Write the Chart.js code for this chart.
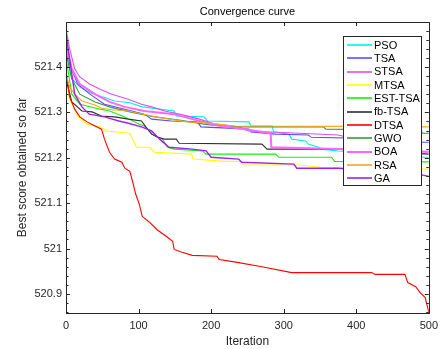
<!DOCTYPE html>
<html>
<head>
<meta charset="utf-8">
<script src="https://cdn.jsdelivr.net/npm/chart.js@4/dist/chart.umd.min.js"></script>
<style>
  html, body { margin: 0; padding: 0; background: #fff; }
  canvas { display: block; }
</style>
</head>
<body>
<canvas id="conv" width="444" height="349"></canvas>
<script>
// series names, in legend order
const seriesNames = ['PSO', 'TSA', 'STSA', 'MTSA', 'EST-TSA', 'fb-TSA', 'DTSA', 'GWO', 'BOA', 'RSA', 'GA'];

// [iteration, best score]
const PSO = [[0,521.44],[8,521.374],[19,521.356],[33,521.343],[51,521.334],[67,521.325],[88,521.321],[105,521.312],[129,521.307],[149,521.303],[152,521.292],[190,521.29],[195,521.281],[252,521.279],[255,521.27],[284,521.27],[286,521.257],[307,521.252],[311,521.241],[330,521.237],[334,521.23],[348,521.223],[352,521.219],[375,521.215],[471,521.208],[478,521.201],[500,521.201]];
const TSA = [[0,521.462],[5,521.407],[16,521.362],[33,521.34],[53,521.318],[81,521.307],[108,521.296],[118,521.285],[145,521.281],[181,521.279],[186,521.268],[252,521.263],[255,521.257],[289,521.252],[334,521.25],[338,521.245],[458,521.241],[485,521.234],[500,521.234]];
const STSA = [[0,521.484],[5,521.44],[12,521.396],[19,521.378],[33,521.362],[47,521.351],[63,521.34],[86,521.329],[104,521.318],[118,521.312],[136,521.303],[156,521.296],[184,521.285],[205,521.274],[238,521.268],[252,521.259],[321,521.254],[375,521.25],[430,521.23],[460,521.215],[500,521.213]];
const MTSA = [[0,521.37],[5,521.33],[16,521.292],[29,521.274],[47,521.268],[56,521.259],[88,521.254],[97,521.223],[115,521.223],[122,521.212],[173,521.208],[175,521.197],[218,521.192],[242,521.192],[245,521.184],[321,521.184],[352,521.179],[500,521.175]];
const EST_TSA = [[0,521.42],[8,521.34],[19,521.318],[47,521.307],[60,521.303],[81,521.29],[101,521.274],[108,521.27],[119,521.252],[133,521.241],[140,521.223],[149,521.219],[188,521.215],[193,521.208],[289,521.208],[293,521.201],[366,521.201],[370,521.192],[500,521.191]];
const FB_TSA = [[0,521.374],[8,521.323],[22,521.303],[36,521.301],[49,521.292],[67,521.29],[86,521.285],[104,521.281],[110,521.268],[118,521.252],[126,521.245],[136,521.241],[152,521.241],[156,521.232],[270,521.23],[277,521.219],[375,521.219],[500,521.208]];
const DTSA = [[0,521.39],[5,521.334],[12,521.307],[19,521.29],[29,521.279],[40,521.27],[49,521.263],[53,521.241],[60,521.212],[67,521.197],[77,521.19],[81,521.177],[88,521.17],[92,521.146],[96,521.12],[101,521.098],[105,521.071],[115,521.058],[125,521.042],[138,521.027],[147,521.016],[149,520.998],[160,520.992],[174,520.985],[208,520.983],[211,520.976],[234,520.97],[270,520.96],[311,520.947],[421,520.947],[426,520.943],[467,520.943],[471,520.925],[482,520.916],[488,520.903],[495,520.892],[500,520.86]];
const GWO = [[0,521.43],[8,521.374],[19,521.34],[40,521.323],[60,521.312],[88,521.301],[122,521.29],[156,521.283],[190,521.274],[225,521.268],[355,521.268],[358,521.263],[485,521.261],[492,521.254],[500,521.254]];
const BOA = [[0,521.45],[8,521.396],[19,521.362],[40,521.34],[60,521.323],[81,521.312],[108,521.303],[149,521.296],[184,521.281],[205,521.272],[246,521.263],[282,521.254],[283,521.223],[375,521.219],[500,521.213]];
const RSA = [[0,521.385],[5,521.356],[12,521.34],[22,521.325],[40,521.316],[49,521.309],[67,521.305],[86,521.303],[100,521.298],[118,521.292],[142,521.285],[167,521.279],[200,521.276],[232,521.27],[375,521.269],[500,521.268]];
const GA = [[0,521.473],[5,521.418],[12,521.34],[22,521.312],[32,521.296],[53,521.29],[73,521.281],[86,521.276],[104,521.268],[118,521.259],[129,521.241],[142,521.223],[174,521.219],[193,521.215],[200,521.201],[238,521.197],[242,521.19],[314,521.186],[318,521.177],[375,521.177],[485,521.164],[500,521.159]];

const seriesData = [PSO, TSA, STSA, MTSA, EST_TSA, FB_TSA, DTSA, GWO, BOA, RSA, GA];

// axis ranges
const xRange = [0, 500];
const yRange = [520.858, 521.499];

// line styles
const lineColors = {
    'PSO': '#00f0f0', 'TSA': '#5a4cff', 'STSA': '#d850e8', 'MTSA': '#ffff00',
    'EST-TSA': '#10f010', 'fb-TSA': '#303030', 'DTSA': '#ff0000', 'GWO': '#3a9a3a',
    'BOA': '#ff66ff', 'RSA': '#f5a623', 'GA': '#a020f0'
};
const lineWidths = {'BOA': 2, 'GA': 1.4};

const FONT = 'Helvetica, "Liberation Sans", Arial, sans-serif';
const INK = '#262626';

const isMajor = v => Math.abs(Math.round(v * 10) - v * 10) < 1e-6;

// MATLAB-ish box: frame, inward ticks, title and boxed legend
const matlabBox = {
    id: 'matlabBox',
    afterDraw(chart) {
        const ctx = chart.ctx;
        const a = chart.chartArea;
        const xs = chart.scales.x, ys = chart.scales.y;
        ctx.save();
        ctx.strokeStyle = INK;
        ctx.lineWidth = 1;
        ctx.beginPath();
        xs.ticks.forEach(t => {
            const px = Math.round(xs.getPixelForValue(t.value)) + 0.5;
            ctx.moveTo(px, a.bottom); ctx.lineTo(px, a.bottom - 4);
            ctx.moveTo(px, a.top); ctx.lineTo(px, a.top + 4);
        });
        ys.ticks.forEach(t => {
            const py = Math.round(ys.getPixelForValue(t.value)) + 0.5;
            const len = isMajor(t.value) ? 4 : 2.5;
            ctx.moveTo(a.left, py); ctx.lineTo(a.left + len, py);
            ctx.moveTo(a.right, py); ctx.lineTo(a.right - len, py);
        });
        ctx.stroke();
        ctx.strokeRect(Math.round(a.left) + 0.5, Math.round(a.top) + 0.5,
            Math.round(a.right - a.left), Math.round(a.bottom - a.top));

        // title
        ctx.fillStyle = '#000';
        ctx.font = '11px ' + FONT;
        ctx.textAlign = 'center';
        ctx.textBaseline = 'middle';
        ctx.fillText('Convergence curve', (a.left + a.right) / 2, 12);

        // legend
        const lx = 343, ly = 36, lw = 78, lh = 149, step = 13.33;
        ctx.fillStyle = '#fff';
        ctx.fillRect(lx, ly, lw, lh);
        ctx.strokeStyle = INK;
        ctx.lineWidth = 1;
        ctx.strokeRect(lx + 0.5, ly + 0.5, lw, lh);
        ctx.textAlign = 'left';
        chart.data.datasets.forEach((ds, i) => {
            const y = ly + 9 + i * step;
            ctx.strokeStyle = ds.borderColor;
            ctx.lineWidth = Math.max(1.6, ds.borderWidth);
            ctx.beginPath();
            ctx.moveTo(lx + 4, Math.round(y));
            ctx.lineTo(lx + 29, Math.round(y));
            ctx.stroke();
            ctx.fillStyle = '#000';
            ctx.fillText(ds.label, lx + 31, y + 0.5);
        });
        ctx.restore();
    }
};

const datasets = seriesNames.map((name, i) => ({
    label: name,
    data: seriesData[i].map(p => ({x: p[0], y: p[1]})),
    borderColor: lineColors[name],
    backgroundColor: lineColors[name],
    borderWidth: lineWidths[name] || 1.1,
    pointRadius: 0,
    fill: false,
    tension: 0,
    order: seriesNames.length - i
}));

new Chart(document.getElementById('conv'), {
    type: 'line',
    data: {datasets: datasets},
    options: {
        responsive: false,
        animation: false,
        devicePixelRatio: 1,
        layout: {padding: {top: 22, right: 13, left: 0, bottom: 0}},
        plugins: {legend: {display: false}, title: {display: false}, tooltip: {enabled: false}},
        scales: {
            x: {
                type: 'linear', min: xRange[0], max: xRange[1],
                ticks: {stepSize: 100, padding: 6, color: INK, font: {size: 11, family: FONT}, maxRotation: 0},
                grid: {display: false, drawTicks: false},
                border: {display: false},
                title: {display: true, text: 'Iteration', color: INK, font: {size: 12, family: FONT}, padding: {top: 0, bottom: 0}},
                afterFit: s => { s.height = 36; }
            },
            y: {
                type: 'linear', min: yRange[0], max: yRange[1],
                ticks: {
                    stepSize: 0.02, includeBounds: false, autoSkip: false, padding: 4,
                    color: INK, font: {size: 11, family: FONT},
                    callback: v => isMajor(v) ? String(+v.toFixed(1)) : ''
                },
                grid: {display: false, drawTicks: false},
                border: {display: false},
                title: {display: true, text: 'Best score obtained so far', color: INK, font: {size: 12, family: FONT}, padding: {top: 15, bottom: 0}},
                afterFit: s => { s.width = 66; }
            }
        }
    },
    plugins: [matlabBox]
});
</script>
</body>
</html>
